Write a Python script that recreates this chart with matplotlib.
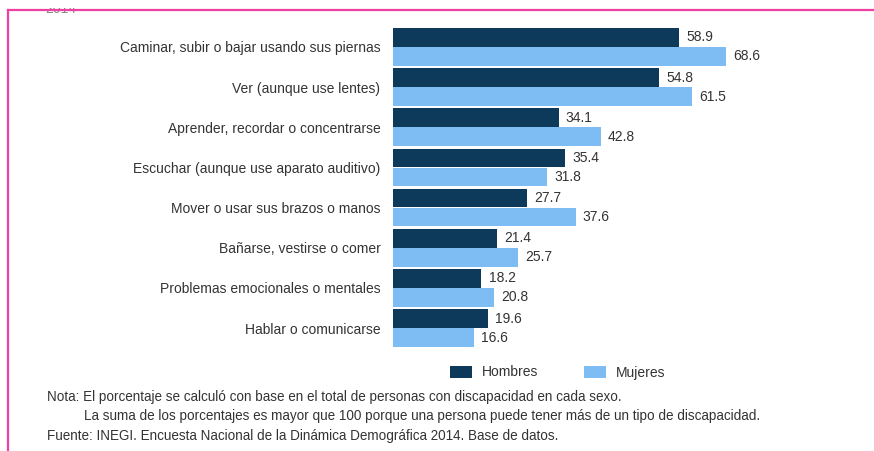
import matplotlib
matplotlib.use("Agg")
import matplotlib.pyplot as plt
from matplotlib.patches import Rectangle
import numpy as np

categorias = [
    "Caminar, subir o bajar usando sus piernas",
    "Ver (aunque use lentes)",
    "Aprender, recordar o concentrarse",
    "Escuchar (aunque use aparato auditivo)",
    "Mover o usar sus brazos o manos",
    "Bañarse, vestirse o comer",
    "Problemas emocionales o mentales",
    "Hablar o comunicarse",
]
hombres = [58.9, 54.8, 34.1, 35.4, 27.7, 21.4, 18.2, 19.6]
mujeres = [68.6, 61.5, 42.8, 31.8, 37.6, 25.7, 20.8, 16.6]

notas = [
    "Nota: El porcentaje se calculó con base en el total de personas con discapacidad en cada sexo.",
    "La suma de los porcentajes es mayor que 100 porque una persona puede tener más de un tipo de discapacidad.",
    "Fuente: INEGI. Encuesta Nacional de la Dinámica Demográfica 2014. Base de datos.",
]

c_hom = "#0d3a5b"
c_muj = "#7dbdf4"
gris = "#333333"

plt.rcParams["font.family"] = ["Liberation Sans", "DejaVu Sans"]

W, H = 874, 451
fig = plt.figure(figsize=(W / 100, H / 100), dpi=100)

# axes placed in pixel terms: zero line at x=393, bars between y=28 and y=347
ax = fig.add_axes([393 / W, 1 - 347 / H, 470 / W, 319 / H])
ax.set_xlim(0, 470 / 4.854)
ax.set_ylim(7.47, -0.47)

y = np.arange(len(categorias))
bh = 0.465
b1 = ax.barh(y - 0.237, hombres, height=bh, color=c_hom, label="Hombres")
b2 = ax.barh(y + 0.237, mujeres, height=bh, color=c_muj, label="Mujeres")

for yy, v in zip(y - 0.237, hombres):
    ax.text(v + 1.5, yy, f"{v:.1f}", va="center", ha="left", fontsize=10, color=gris)
for yy, v in zip(y + 0.237, mujeres):
    ax.text(v + 1.5, yy, f"{v:.1f}", va="center", ha="left", fontsize=10, color=gris)

ax.set_yticks(y)
ax.set_yticklabels(categorias, fontsize=10, color=gris)
ax.tick_params(axis="y", length=0, pad=9)
ax.set_xticks([])
for s in ax.spines.values():
    s.set_visible(False)

leg = ax.legend(handles=[b1, b2], ncol=2, loc="upper left",
                bbox_to_anchor=(437 / W, 1 - 353 / H), bbox_transform=fig.transFigure,
                frameon=False, fontsize=10, handlelength=1.6, handleheight=0.95,
                handletextpad=0.7, columnspacing=3.3, labelcolor=gris)

fs_nota = 9.75
fig.text(47 / W, 1 - 397 / H, notas[0], fontsize=fs_nota, color=gris, va="center")
fig.text(84 / W, 1 - 416 / H, notas[1], fontsize=fs_nota, color=gris, va="center")
fig.text(47 / W, 1 - 436 / H, notas[2], fontsize=fs_nota, color=gris, va="center")

# título cortado en la parte superior: sólo asoma el pie de las letras
fig.text(45 / W, 1 - 13 / H, "2014", fontsize=10, color="#888888", va="baseline")
fig.add_artist(Rectangle((0, 1 - 8 / H), 1, 8 / H, transform=fig.transFigure,
                         facecolor="white", edgecolor="none", zorder=5))

# marco rosa superior e izquierdo
fig.add_artist(plt.Line2D([8 / W, 1], [1 - 10 / H, 1 - 10 / H], color="#ee3fa3", lw=1.6,
                          transform=fig.transFigure, zorder=6))
fig.add_artist(plt.Line2D([8 / W, 8 / W], [1 - 10 / H, 0], color="#ee3fa3", lw=1.6,
                          transform=fig.transFigure, zorder=6))

fig.savefig("out.png", dpi=100)
